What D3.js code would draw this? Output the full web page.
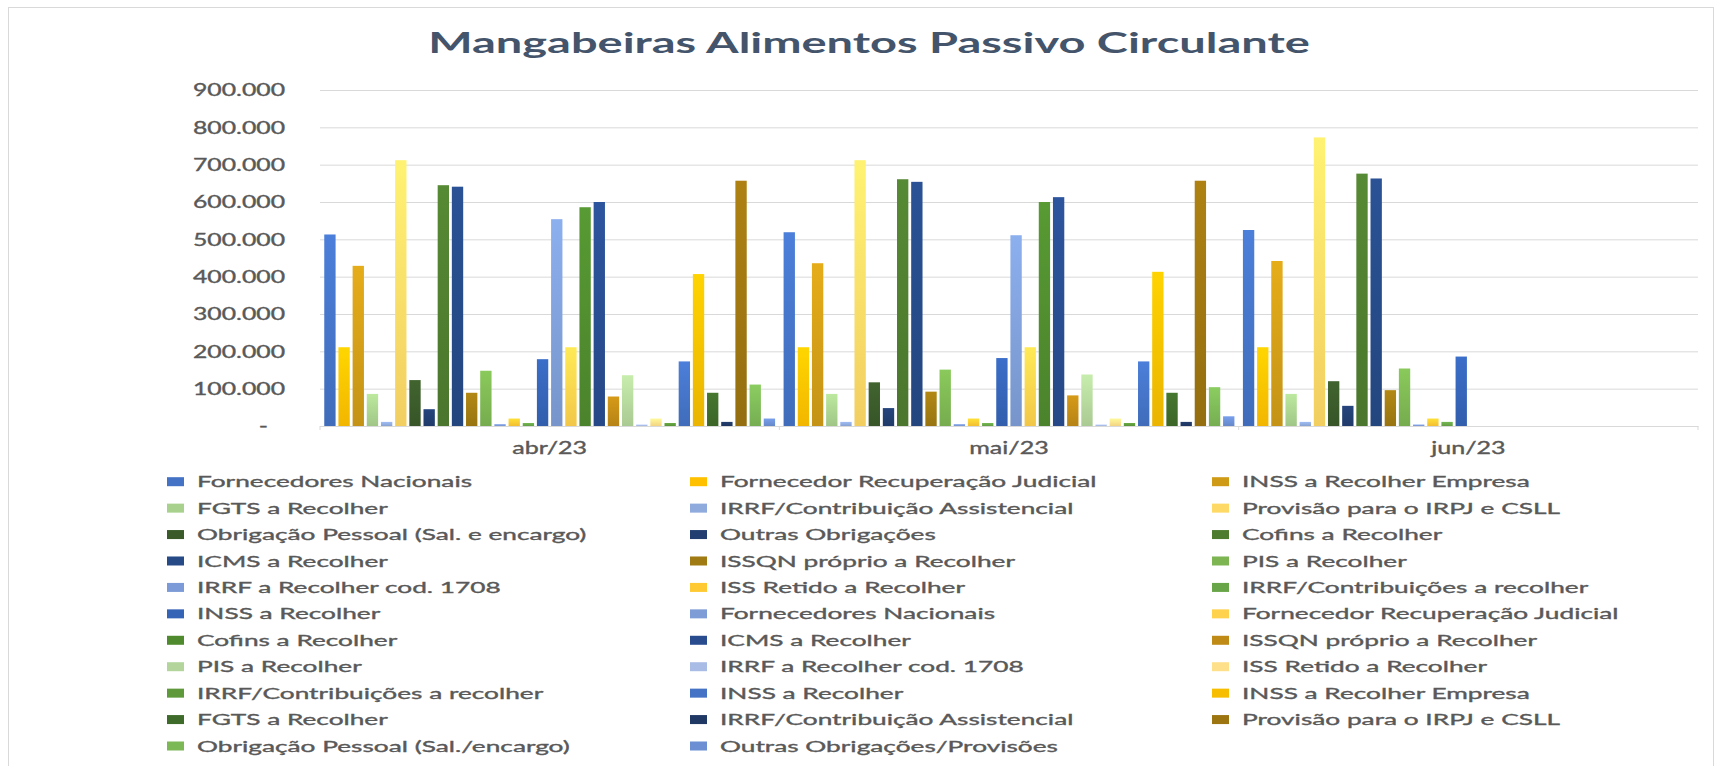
<!DOCTYPE html>
<html>
<head>
<meta charset="utf-8">
<script src="https://cdn.jsdelivr.net/npm/d3@7"></script>
<style>
  html, body { margin: 0; padding: 0; background: #fff; }
  svg { display: block; }
</style>
</head>
<body>
<svg id="chart" width="1722" height="766"></svg>
<script>
const title = 'Mangabeiras Alimentos Passivo Circulante'
const months = ['abr/23', 'mai/23', 'jun/23']
const yTicks = [0, 100000, 200000, 300000, 400000, 500000, 600000, 700000, 800000, 900000]

const seriesNames = [
	'Fornecedores Nacionais', 'Fornecedor Recuperação Judicial', 'INSS a Recolher Empresa',
	'FGTS a Recolher', 'IRRF/Contribuição Assistencial', 'Provisão para o IRPJ e CSLL',
	'Obrigação Pessoal (Sal. e encargo)', 'Outras Obrigações', 'Cofins a Recolher',
	'ICMS a Recolher', 'ISSQN próprio a Recolher', 'PIS a Recolher',
	'IRRF a Recolher cod. 1708', 'ISS Retido a Recolher', 'IRRF/Contribuições a recolher',
	'INSS a Recolher', 'Fornecedores Nacionais', 'Fornecedor Recuperação Judicial',
	'Cofins a Recolher', 'ICMS a Recolher', 'ISSQN próprio a Recolher',
	'PIS a Recolher', 'IRRF a Recolher cod. 1708', 'ISS Retido a Recolher',
	'IRRF/Contribuições a recolher', 'INSS a Recolher', 'INSS a Recolher Empresa',
	'FGTS a Recolher', 'IRRF/Contribuição Assistencial', 'Provisão para o IRPJ e CSLL',
	'Obrigação Pessoal (Sal./encargo)', 'Outras Obrigações/Provisões'
]

// one value per series, in legend order
const abr23 = [513000, 211000, 429000, 86000, 11000, 712000, 123000, 45000, 645000, 641000, 89000, 148000, 5000, 20000, 8000, 179000,
	554000, 211000, 586000, 600000, 79000, 136000, 4000, 20000, 8000, 173000, 407000, 89000, 11000, 657000, 111000, 20000]
const mai23 = [519000, 211000, 436000, 86000, 11000, 712000, 117000, 48000, 661000, 654000, 92000, 151000, 5000, 20000, 8000, 182000,
	511000, 211000, 600000, 613000, 82000, 138000, 4000, 20000, 8000, 173000, 413000, 89000, 11000, 657000, 104000, 26000]
const jun23 = [525000, 211000, 442000, 86000, 11000, 773000, 120000, 54000, 676000, 663000, 96000, 154000, 4000, 20000, 11000, 186000,
	null, null, null, null, null, null, null, null, null, null, null, null, null, null, null, null]

const seriesColors = [
	'#4472C4', '#FFC000', '#CF9B17', '#A9D18E', '#8FAADC', '#FFD966', '#3A5A2A', '#223E70',
	'#4E7C2F', '#264A86', '#A07A12', '#7CB552', '#7C9AD8', '#FFC933', '#68A548', '#3563B5',
	'#7E9DD6', '#FFD24D', '#4F8A2E', '#284C8E', '#C08A16', '#B3D59B', '#A9BCE6', '#FFE08A',
	'#5E9A3C', '#4472C4', '#F7BE00', '#3F6B2A', '#1F3864', '#9C7410', '#7DB857', '#6C8FD4'
]

const monthValues = [abr23, mai23, jun23]

var svg = d3.select('#chart')
var FONT = 'Lato, "Open Sans", sans-serif'
var TEXT = '#595959'
var plot = { left: 320, right: 1698, top: 90, bottom: 426 }

// the picture is wider than normal text, so every label is stretched sideways
function widthOf(text, size, weight) {
	var t = svg.append('text').style('font-family', FONT).style('font-size', size + 'px')
		.style('font-weight', weight || 400).text(text)
	var w = t.node().getComputedTextLength()
	t.remove()
	return w
}
function stretch(sel, sx) {
	sel.each(function() {
		var x = +this.getAttribute('x') || 0, y = +this.getAttribute('y') || 0
		d3.select(this).attr('x', 0).attr('y', 0)
			.attr('transform', `translate(${x},${y}) scale(${sx},1)`)
	})
}
// a thin outline makes the thin font look closer to the heavier original
function heavy(sel) {
	sel.attr('stroke', TEXT).attr('stroke-width', 0.35)
}

svg.append('rect').attr('width', 1722).attr('height', 766).attr('fill', '#fff')
svg.append('rect').attr('x', 8.5).attr('y', 7.5).attr('width', 1705).attr('height', 780)
	.attr('fill', 'none').attr('stroke', '#d9d9d9')

// title
var sxTitle = 882 / widthOf(title, 29, 700)
svg.append('text').attr('x', 869).attr('y', 53)
	.attr('text-anchor', 'middle').style('font-family', FONT).style('font-size', '29px')
	.style('font-weight', 700).attr('fill', '#44546A').text(title)
	.call(stretch, sxTitle)

var y = d3.scaleLinear().domain([0, 900000]).range([plot.bottom, plot.top])
var x0 = d3.scaleBand().domain(months).range([plot.left, plot.right])
var x1 = d3.scaleBand().domain(d3.range(seriesNames.length)).range([0, x0.bandwidth()])
	.paddingInner(0.2).paddingOuter(0.3)

var br = d3.formatLocale({ decimal: ',', thousands: '.', grouping: [3], currency: ['R$', ''] })
var fmt = br.format(',.0f')

// gridlines + y labels
var sxTick = 92 / widthOf('100.000', 16.4)
var gY = svg.append('g').attr('transform', `translate(${plot.left},0)`)
	.call(d3.axisLeft(y).tickValues(yTicks).tickSize(-(plot.right - plot.left)).tickPadding(35)
		.tickFormat(d => d === 0 ? '-' : fmt(d)))
gY.select('.domain').remove()
gY.selectAll('.tick line').attr('stroke', '#d9d9d9').attr('stroke-width', 1)
gY.selectAll('.tick text').style('font-family', FONT).style('font-size', '16.4px')
	.attr('fill', TEXT).attr('dy', '0.35em')
	.attr('x', d => d === 0 ? -52 : -35)
	.call(heavy)
	.call(stretch, sxTick)

// gradients for bars
var defs = svg.append('defs')
seriesColors.forEach((c, i) => {
	var g = defs.append('linearGradient').attr('id', 'g' + i)
		.attr('x1', 0).attr('y1', 0).attr('x2', 0).attr('y2', 1)
	g.append('stop').attr('offset', '0%').attr('stop-color', d3.color(c).brighter(0.3))
	g.append('stop').attr('offset', '100%').attr('stop-color', d3.color(c).darker(0.15))
})

// bars
var groups = svg.append('g').selectAll('g').data(months).join('g')
	.attr('transform', d => `translate(${x0(d)},0)`)
groups.selectAll('rect')
	.data((m, mi) => monthValues[mi].map((v, i) => ({ i: i, v: v })).filter(d => d.v != null))
	.join('rect')
	.attr('x', d => x1(d.i))
	.attr('width', x1.bandwidth())
	.attr('y', d => y(d.v))
	.attr('height', d => y(0) - y(d.v))
	.attr('fill', d => `url(#g${d.i})`)

// category axis
var gX = svg.append('g').attr('transform', `translate(0,${plot.bottom})`)
	.call(d3.axisBottom(x0).tickSize(0).tickPadding(0))
gX.select('.domain').attr('stroke', '#d9d9d9')
gX.selectAll('.tick text').style('font-family', FONT).style('font-size', '16.4px')
	.attr('fill', TEXT).attr('dy', 0).attr('y', 28)
	.call(heavy)
	.call(stretch, 75 / widthOf('abr/23', 16.4))
var edges = months.map(m => x0(m)).concat([plot.right])
svg.append('g').selectAll('line').data(edges).join('line')
	.attr('x1', d => d).attr('x2', d => d)
	.attr('y1', plot.bottom).attr('y2', plot.bottom + 4)
	.attr('stroke', '#d9d9d9')

// legend, three columns, filled row by row
var legendCols = [167, 690, 1212]
var sxLegend = 275 / widthOf('Fornecedores Nacionais', 15.4)
var items = svg.append('g').selectAll('g').data(seriesNames).join('g')
	.attr('transform', (d, i) => `translate(${legendCols[i % 3]},${481.7 + Math.floor(i / 3) * 26.43})`)
items.append('rect').attr('x', 0).attr('y', -4.5).attr('width', 17).attr('height', 9)
	.attr('fill', (d, i) => seriesColors[i])
items.append('text').attr('x', 30).attr('y', 0).attr('dy', '0.36em')
	.style('font-family', FONT).style('font-size', '15.4px').attr('fill', TEXT)
	.text(d => d)
	.call(heavy)
	.call(stretch, sxLegend)
</script>
</body>
</html>
